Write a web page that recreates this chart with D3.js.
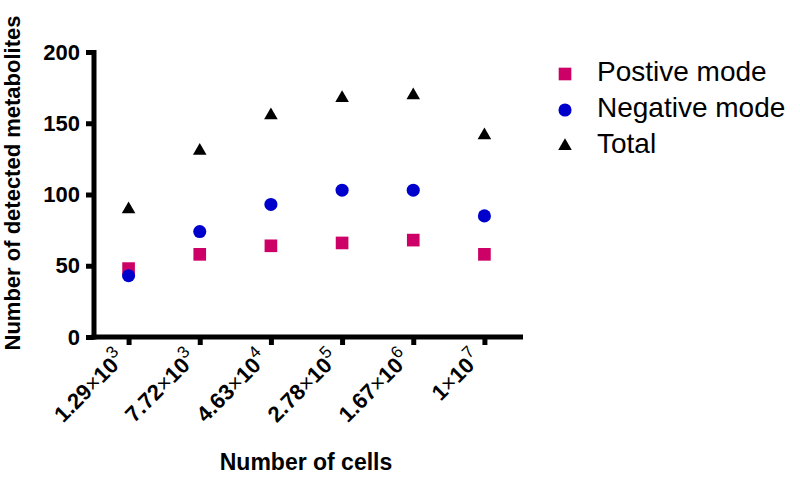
<!DOCTYPE html>
<html>
<head>
<meta charset="utf-8">
<script src="https://cdn.jsdelivr.net/npm/d3@7"></script>
<style>
  body { margin: 0; background: #fff; }
  text { font-family: Arial, "Liberation Sans", sans-serif; }
</style>
</head>
<body>
<div id="chart"></div>
<script>
// cell numbers (mantissa, exponent)
var cellMantissa = ["1.29", "7.72", "4.63", "2.78", "1.67", "1"];
var cellExponent = ["3", "3", "4", "5", "6", "7"];

var positiveMode = [48, 58, 64, 66, 68, 58];
var negativeMode = [43, 74, 93, 103, 103, 85];
var totalCount = [91, 132, 157, 169, 171, 143];

var yTicks = [0, 50, 100, 150, 200];

var seriesNames = ["Postive mode", "Negative mode", "Total"];
var seriesColors = ["#cc0066", "#0000cc", "#000000"];

var svgWidth = 800, svgHeight = 486;

var svg = d3.select("#chart").append("svg")
  .attr("width", svgWidth)
  .attr("height", svgHeight);

var xScale = d3.scalePoint()
  .domain(d3.range(cellMantissa.length))
  .range([93, 520])
  .padding(0.5);

var yScale = d3.scaleLinear()
  .domain([0, 200])
  .range([337, 52]);

// y axis
var yAxis = d3.axisLeft(yScale)
  .tickValues(yTicks)
  .tickSize(8)
  .tickSizeOuter(0)
  .tickPadding(6);

var yAxisG = svg.append("g")
  .attr("transform", "translate(94,0)")
  .call(yAxis);
yAxisG.select(".domain").remove();
yAxisG.selectAll(".tick line").attr("stroke", "#000").attr("stroke-width", 5);
yAxisG.selectAll(".tick text")
  .attr("font-size", "22px")
  .attr("font-weight", "bold")
  .attr("fill", "#000");

// x axis
var xAxis = d3.axisBottom(xScale)
  .tickSize(8)
  .tickSizeOuter(0)
  .tickFormat("");

var xAxisG = svg.append("g")
  .attr("transform", "translate(0,337)")
  .call(xAxis);
xAxisG.select(".domain").remove();
xAxisG.selectAll(".tick line").attr("stroke", "#000").attr("stroke-width", 5);

// axis lines
svg.append("line")
  .attr("x1", 94).attr("x2", 94)
  .attr("y1", 50).attr("y2", 339.5)
  .attr("stroke", "#000").attr("stroke-width", 5);
svg.append("line")
  .attr("x1", 91.5).attr("x2", 523)
  .attr("y1", 337).attr("y2", 337)
  .attr("stroke", "#000").attr("stroke-width", 5);

// x tick labels, rotated
var xLabels = svg.append("g").selectAll("text")
  .data(cellMantissa)
  .enter()
  .append("text")
  .attr("transform", function(d, i) {
    return "translate(" + (xScale(i) - 2) + ",360) rotate(-45)";
  })
  .attr("text-anchor", "end")
  .attr("font-size", "22px")
  .attr("fill", "#000");

xLabels.append("tspan")
  .attr("font-weight", "bold")
  .text(function(d) { return d; });
xLabels.append("tspan")
  .text("\u00d7");
xLabels.append("tspan")
  .attr("font-weight", "bold")
  .text("10");
xLabels.append("tspan")
  .attr("font-size", "17px")
  .attr("dy", "-10")
  .text(function(d, i) { return cellExponent[i]; });

// axis titles
svg.append("text")
  .attr("x", 306)
  .attr("y", 470)
  .attr("text-anchor", "middle")
  .attr("font-size", "23px")
  .attr("font-weight", "bold")
  .text("Number of cells");

svg.append("text")
  .attr("transform", "translate(20,183) rotate(-90)")
  .attr("text-anchor", "middle")
  .attr("font-size", "22px")
  .attr("font-weight", "bold")
  .text("Number of detected metabolites");

// markers
var squareSym = d3.symbol().type(d3.symbolSquare).size(160);
var circleSym = d3.symbol().type(d3.symbolCircle).size(135);
var triSym = d3.symbol().type(d3.symbolTriangle).size(80);

svg.append("g").selectAll("path")
  .data(positiveMode)
  .enter()
  .append("path")
  .attr("d", squareSym)
  .attr("fill", seriesColors[0])
  .attr("transform", function(d, i) { return "translate(" + xScale(i) + "," + yScale(d) + ")"; });

svg.append("g").selectAll("path")
  .data(negativeMode)
  .enter()
  .append("path")
  .attr("d", circleSym)
  .attr("fill", seriesColors[1])
  .attr("transform", function(d, i) { return "translate(" + xScale(i) + "," + yScale(d) + ")"; });

svg.append("g").selectAll("path")
  .data(totalCount)
  .enter()
  .append("path")
  .attr("d", triSym)
  .attr("fill", seriesColors[2])
  .attr("transform", function(d, i) { return "translate(" + xScale(i) + "," + (yScale(d) + 2) + ")"; });

// legend
var legendSyms = [squareSym, circleSym, triSym];
var legend = svg.append("g").selectAll("g")
  .data(seriesNames)
  .enter()
  .append("g")
  .attr("transform", function(d, i) { return "translate(565," + (74 + i * 36) + ")"; });

legend.append("path")
  .attr("d", function(d, i) { return legendSyms[i](); })
  .attr("fill", function(d, i) { return seriesColors[i]; });

legend.append("text")
  .attr("x", 32)
  .attr("y", 7)
  .attr("font-size", "28px")
  .attr("fill", "#000")
  .text(function(d) { return d; });
</script>
</body>
</html>
